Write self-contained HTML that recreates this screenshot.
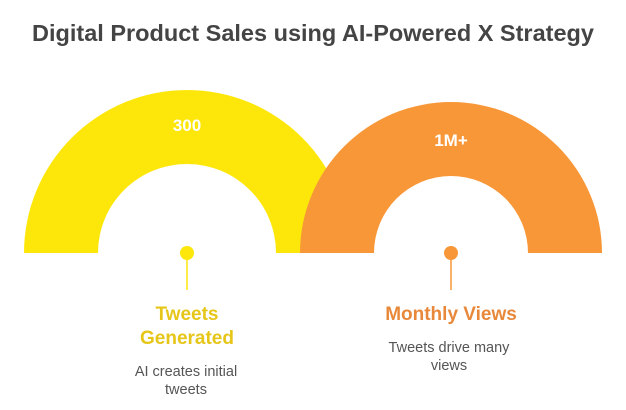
<!DOCTYPE html>
<html><head><style>body{margin:0;background:#fff}svg{display:block}</style></head>
<body>
<svg width="626" height="410" viewBox="0 0 626 410" xmlns="http://www.w3.org/2000/svg" font-family="'Liberation Sans',sans-serif">
<text x="313" y="41" text-anchor="middle" font-size="23.5" font-weight="bold" fill="#444">Digital Product Sales using AI-Powered X Strategy</text>
<path d="M24 253 A163 163 0 0 1 350 253 L276 253 A89 89 0 0 0 98 253 Z" fill="#fde70b"/>
<path d="M300 253 A151 151 0 0 1 602 253 L528 253 A77 77 0 0 0 374 253 Z" fill="#f89738"/>
<text x="187" y="131" text-anchor="middle" font-size="17" font-weight="bold" fill="#fff">300</text>
<text x="451" y="146" text-anchor="middle" font-size="17" font-weight="bold" fill="#fff">1M+</text>
<line x1="187" y1="253" x2="187" y2="290" stroke="#fde70b" stroke-width="1.5"/>
<circle cx="187" cy="253" r="7" fill="#fde70b"/>
<line x1="451" y1="253" x2="451" y2="290" stroke="#f89738" stroke-width="1.5"/>
<circle cx="451" cy="253" r="7" fill="#f89738"/>
<text x="187" y="320" text-anchor="middle" font-size="19" font-weight="bold" fill="#e6c619">Tweets</text>
<text x="187" y="344" text-anchor="middle" font-size="19" font-weight="bold" fill="#e6c619">Generated</text>
<text x="186" y="376" text-anchor="middle" font-size="14.5" fill="#555">AI creates initial</text>
<text x="186" y="394" text-anchor="middle" font-size="14.5" fill="#555">tweets</text>
<text x="451" y="320" text-anchor="middle" font-size="19" font-weight="bold" fill="#e8883a">Monthly Views</text>
<text x="449" y="352" text-anchor="middle" font-size="14.5" fill="#555">Tweets drive many</text>
<text x="449" y="370" text-anchor="middle" font-size="14.5" fill="#555">views</text>
</svg>
</body></html>
